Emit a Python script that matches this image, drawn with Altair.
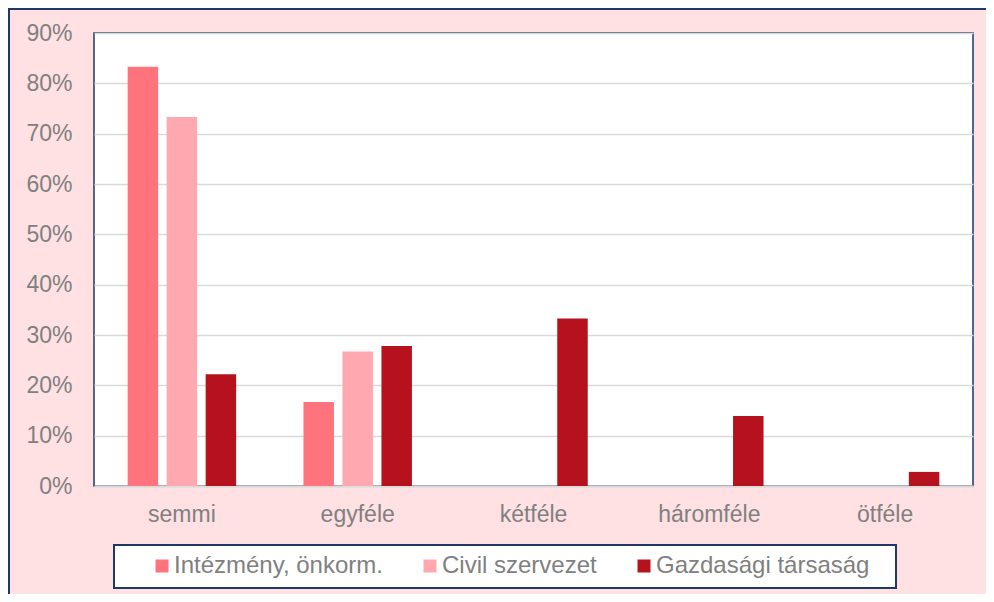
import altair as alt
import pandas as pd

categories = ["semmi", "egyféle", "kétféle", "háromféle", "ötféle"]
series = ["Intézmény, önkorm.", "Civil szervezet", "Gazdasági társaság"]
intezmeny = [0.833, 0.167, 0.0, 0.0, 0.0]
civil = [0.733, 0.267, 0.0, 0.0, 0.0]
gazdasagi = [0.222, 0.278, 0.333, 0.139, 0.028]
y_ticks = [0.0, 0.1, 0.2, 0.3, 0.4, 0.5, 0.6, 0.7, 0.8, 0.9]

colors = ["#FF737D", "#FFA8AF", "#B5121E"]
NAVY = "#1F3864"
GRAY_TEXT = "#808080"
GRID = "#D9D9D9"
BG = "#FFE1E3"
FONT = "Liberation Sans"

rows = []
for s, vals in zip(series, [intezmeny, civil, gazdasagi]):
    for c, v in zip(categories, vals):
        rows.append({"kategoria": c, "sorozat": s, "ertek": v})
df = pd.DataFrame(rows)

W, H = 879, 453
one = pd.DataFrame({"a": [0]})

outer = alt.Chart(one).mark_rect(fillOpacity=0, stroke=NAVY, strokeWidth=2).encode(
    x=alt.value(-85), x2=alt.value(W + 300), y=alt.value(-24), y2=alt.value(H + 300)
)

legend_box = alt.Chart(one).mark_rect(fill="white", stroke=NAVY, strokeWidth=2).encode(
    x=alt.value(20), x2=alt.value(802), y=alt.value(512), y2=alt.value(555)
)

bars = alt.Chart(df).mark_bar().encode(
    x=alt.X(
        "kategoria:N",
        sort=categories,
        scale=alt.Scale(paddingInner=0.383, paddingOuter=0.1915),
        axis=alt.Axis(
            title=None, labelAngle=0, labelFontSize=23, labelColor=GRAY_TEXT,
            labelFont=FONT, labelPadding=17, ticks=False, domainColor=GRID,
            domainWidth=2, grid=False,
        ),
    ),
    xOffset=alt.XOffset(
        "sorozat:N", sort=series,
        scale=alt.Scale(paddingInner=0.218, paddingOuter=0),
    ),
    y=alt.Y(
        "ertek:Q",
        scale=alt.Scale(domain=[0, 0.9], nice=False),
        axis=alt.Axis(
            title=None, values=y_ticks, format=".0%", labelFontSize=23,
            labelColor=GRAY_TEXT, labelFont=FONT, labelPadding=22, ticks=False,
            domain=False, grid=True, gridColor=GRID, gridWidth=1.3,
        ),
    ),
    color=alt.Color(
        "sorozat:N",
        sort=series,
        scale=alt.Scale(domain=series, range=colors),
        legend=alt.Legend(
            title=None, orient="none", legendX=56, legendY=521,
            direction="horizontal", symbolType="square", symbolSize=169,
            symbolStrokeWidth=0, labelFontSize=24, labelColor=GRAY_TEXT,
            labelFont=FONT, columnPadding=35, labelOffset=0, padding=0,
            labelLimit=500, zindex=2,
        ),
    ),
)

chart = alt.layer(outer, legend_box, bars).properties(
    width=W, height=H,
    background=BG,
    autosize=alt.AutoSizeParams(type="none"),
    padding={"left": 86, "top": 25, "right": 13, "bottom": 108},
).configure_view(
    fill="white", stroke=NAVY, strokeWidth=1.5
)

chart.save("out.html", embed_options={"renderer": "svg", "actions": False})
